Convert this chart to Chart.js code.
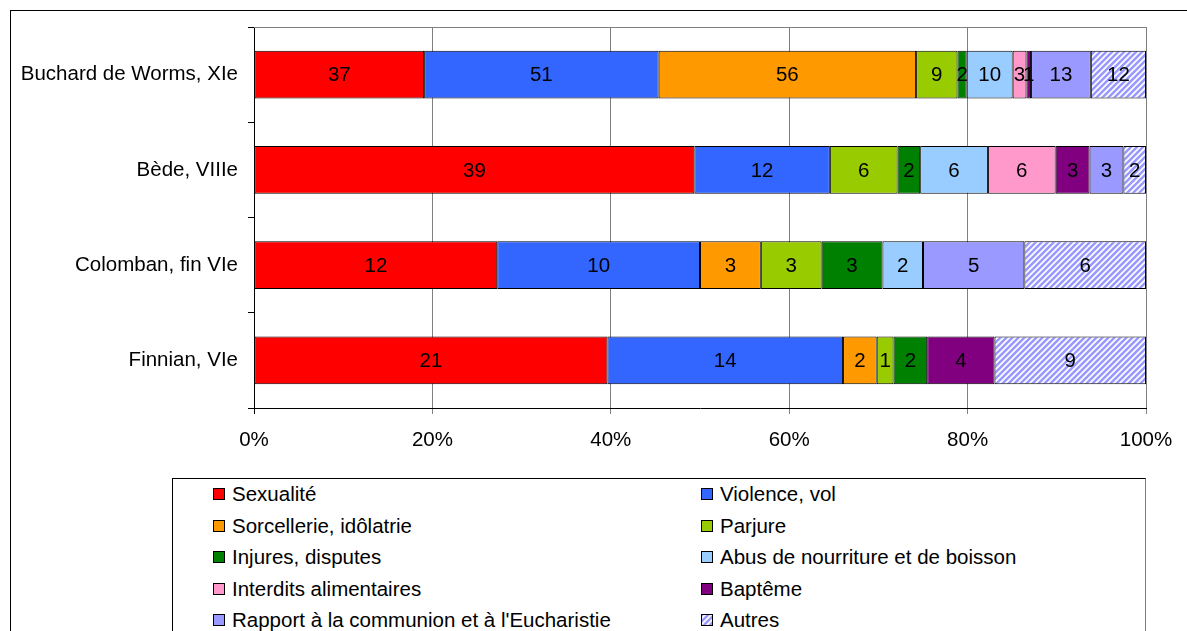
<!DOCTYPE html>
<html>
<head>
<meta charset="utf-8">
<script src="https://cdn.jsdelivr.net/npm/chart.js@4/dist/chart.umd.min.js"></script>
<style>
  body { margin: 0; background: #fff; font-family: "Liberation Sans", Arial, sans-serif; }
  #wrap { position: relative; width: 1187px; height: 631px; overflow: hidden; }
  #frame { position: absolute; left: 10px; top: 10px; width: 1300px; height: 800px; border: 1px solid #000; box-sizing: border-box; }
  #chart { position: absolute; left: 0; top: 0; }
  #legend { position: absolute; left: 172px; top: 478px; width: 974px; height: 300px; border: 1px solid #000; border-right-color: #808080; box-sizing: border-box; background: #fff; }
  .item { position: absolute; height: 22px; display: flex; align-items: center; font-size: 20.5px; color: #000; white-space: nowrap; }
  .sw { width: 10px; height: 10px; border: 1px solid #000; margin-right: 7px; }
</style>
</head>
<body>
<div id="wrap">
  <div id="frame"></div>
  <canvas id="chart" width="1187" height="631"></canvas>
  <div id="legend"></div>
</div>
<script>
var categories = ['Buchard de Worms, XIe', 'Bède, VIIIe', 'Colomban, fin VIe', 'Finnian, VIe'];
var seriesNames = ['Sexualité', 'Violence, vol', 'Sorcellerie, idôlatrie', 'Parjure', 'Injures, disputes',
    'Abus de nourriture et de boisson', 'Interdits alimentaires', 'Baptême',
    "Rapport à la communion et à l'Eucharistie", 'Autres'];
var sexualite   = [37, 39, 12, 21];
var violence    = [51, 12, 10, 14];
var sorcellerie = [56, 0, 3, 2];
var parjure     = [9, 6, 3, 1];
var injures     = [2, 2, 3, 2];
var abus        = [10, 6, 2, 0];
var interdits   = [3, 6, 0, 0];
var bapteme     = [1, 3, 0, 4];
var rapport     = [13, 3, 5, 0];
var autres      = [12, 2, 6, 9];
var xTicks = [0, 20, 40, 60, 80, 100];

var counts = [sexualite, violence, sorcellerie, parjure, injures, abus, interdits, bapteme, rapport, autres];
var colors = ['#FF0000', '#3366FF', '#FF9900', '#99CC00', '#008000', '#99CCFF', '#FF99CC', '#800080', '#9999FF', null];
var FONT = '"Liberation Sans", Arial, sans-serif';

// hatched fill for "Autres"
var pc = document.createElement('canvas');
pc.width = 6; pc.height = 6;
var px = pc.getContext('2d');
px.fillStyle = '#fff';
px.fillRect(0, 0, 6, 6);
px.strokeStyle = '#9999FF';
px.lineWidth = 2.6;
px.beginPath();
px.moveTo(-2, 8); px.lineTo(8, -2);
px.moveTo(-2, 2); px.lineTo(2, -2);
px.moveTo(4, 8); px.lineTo(8, 4);
px.stroke();
var hatch = document.getElementById('chart').getContext('2d').createPattern(pc, 'repeat');

var totals = categories.map(function(c, i) {
    return counts.reduce(function(s, arr) { return s + arr[i]; }, 0);
});

var datasets = counts.map(function(arr, k) {
    return {
        label: seriesNames[k],
        raw: arr,
        data: arr.map(function(v, i) { return v / totals[i] * 100; }),
        backgroundColor: colors[k] || hatch,
        borderColor: '#000',
        borderWidth: 1,
        borderSkipped: false,
        barPercentage: 0.5,
        categoryPercentage: 1
    };
});

var labelPlugin = {
    id: 'labels',
    beforeDatasetsDraw: function(chart) {
        var a = chart.chartArea, c = chart.ctx;
        c.save();
        c.strokeStyle = '#808080';
        c.lineWidth = 1;
        c.beginPath();
        c.moveTo(a.left, a.top + 0.5);
        c.lineTo(a.right, a.top + 0.5);
        c.stroke();
        c.restore();
    },
    afterDatasetsDraw: function(chart) {
        var c = chart.ctx;
        c.save();
        c.font = '20.5px ' + FONT;
        c.fillStyle = '#000';
        c.textAlign = 'center';
        c.textBaseline = 'middle';
        chart.data.datasets.forEach(function(ds, k) {
            chart.getDatasetMeta(k).data.forEach(function(el, i) {
                if (!ds.raw[i]) return;
                c.fillText(ds.raw[i], (el.x + el.base) / 2, el.y + 1);
            });
        });
        c.restore();
    }
};

var chart = new Chart(document.getElementById('chart'), {
    type: 'bar',
    data: { labels: categories, datasets: datasets },
    plugins: [labelPlugin],
    options: {
        indexAxis: 'y',
        responsive: false,
        animation: false,
        layout: { padding: { top: 27, right: 41, left: 0, bottom: 0 } },
        plugins: { legend: { display: false }, tooltip: { enabled: false } },
        scales: {
            x: {
                stacked: true,
                min: 0,
                max: 100,
                afterBuildTicks: function(scale) {
                    scale.ticks = xTicks.map(function(v) { return { value: v }; });
                },
                afterFit: function(scale) { scale.height = 223; },
                ticks: {
                    callback: function(v) { return v + '%'; },
                    color: '#000',
                    font: { family: FONT, size: 20.5 },
                    padding: 14,
                    maxRotation: 0
                },
                grid: {
                    color: function(ctx) { return ctx.tick && ctx.tick.value === 0 ? '#000' : '#808080'; },
                    tickLength: 6
                },
                border: { color: '#000' }
            },
            y: {
                stacked: true,
                afterFit: function(scale) { scale.width = 254; },
                ticks: {
                    color: '#000',
                    font: { family: FONT, size: 20.5 },
                    padding: 10
                },
                grid: { drawOnChartArea: false, color: '#000', tickLength: 6 },
                border: { color: '#000' }
            }
        }
    }
});

// legend in two columns, from the chart's datasets
var legend = document.getElementById('legend');
chart.data.datasets.forEach(function(ds, k) {
    var item = document.createElement('div');
    item.className = 'item';
    item.style.left = (k % 2 === 0 ? 40 : 528) + 'px';
    item.style.top = (4 + Math.floor(k / 2) * 31.5) + 'px';
    var sw = document.createElement('span');
    sw.className = 'sw';
    if (colors[k]) sw.style.background = colors[k];
    else sw.style.backgroundImage = 'url(' + pc.toDataURL() + ')';
    item.appendChild(sw);
    item.appendChild(document.createTextNode(ds.label));
    legend.appendChild(item);
});
</script>
</body>
</html>
